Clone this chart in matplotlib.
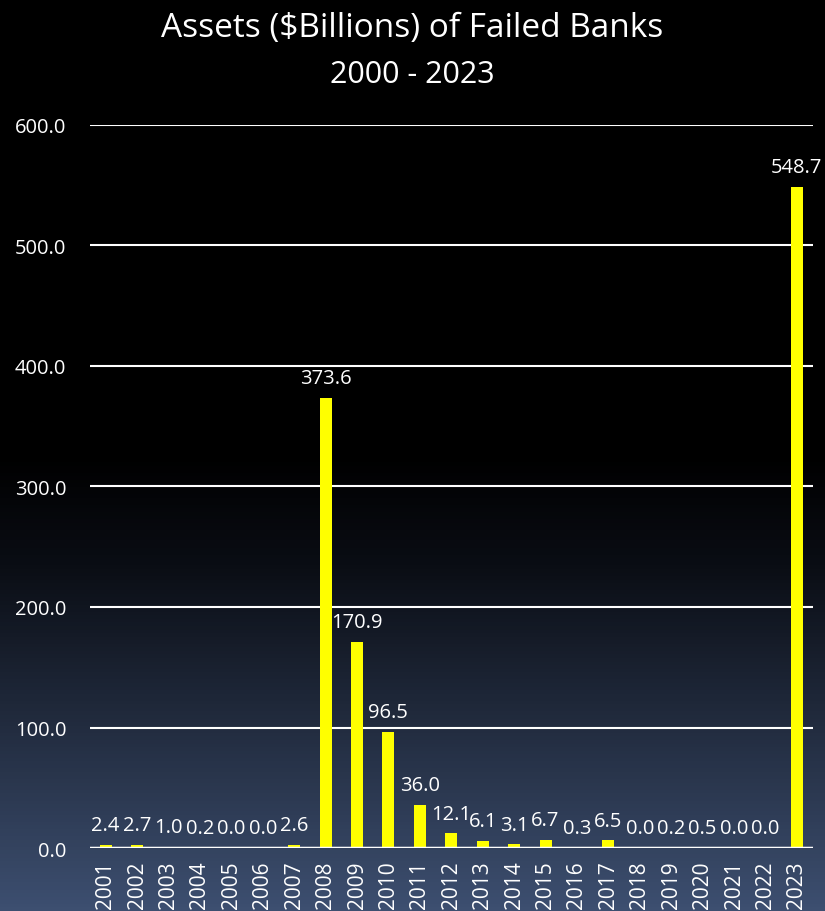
import numpy as np
import matplotlib.pyplot as plt
from matplotlib.colors import LinearSegmentedColormap

# data
years = [str(y) for y in range(2001, 2024)]
assets = [2.4, 2.7, 1.0, 0.2, 0.0, 0.0, 2.6, 373.6, 170.9, 96.5, 36.0, 12.1,
          6.1, 3.1, 6.7, 0.3, 6.5, 0.0, 0.2, 0.5, 0.0, 0.0, 548.7]
yticks = [0, 100, 200, 300, 400, 500, 600]

plt.rcParams['font.family'] = ['Open Sans', 'DejaVu Sans']

fig = plt.figure(figsize=(8.25, 9.12), dpi=100)

# background: black on top fading to slate blue at the bottom
bg = fig.add_axes([0, 0, 1, 1], zorder=-10)
cmap = LinearSegmentedColormap.from_list(
    'bg', [(0.0, '#000000'), (0.5, '#000000'), (0.62, '#0a0d14'), (1.0, '#3d4f70')])
grad = np.linspace(0, 1, 256).reshape(-1, 1)
bg.imshow(grad, aspect='auto', cmap=cmap, extent=[0, 1, 0, 1], origin='upper')
bg.axis('off')

ax = fig.add_axes([0.109, 0.069, 0.876, 0.793])
ax.patch.set_alpha(0)
x = np.arange(len(years))
bars = ax.bar(x, assets, width=0.38, color='#ffff00', zorder=3)

ax.set_ylim(0, 600)
ax.set_xlim(-0.5, len(years) - 0.5)
ax.set_yticks(yticks)
ax.set_yticklabels([f'{v:.1f}' for v in yticks])
ax.set_xticks(x)
ax.set_xticklabels(years, rotation=90)
ax.tick_params(axis='both', length=0, colors='white')
ax.tick_params(axis='y', pad=17, labelsize=14.5)
ax.tick_params(axis='x', pad=9, labelsize=15)
ax.grid(axis='y', color='white', linewidth=1.5, zorder=1)
ax.axhline(0, color='white', linewidth=2.5, zorder=4)
for s in ax.spines.values():
    s.set_visible(False)

for xi, v in zip(x, assets):
    ax.annotate(f'{v:.1f}', (xi, v), xytext=(0, 7), textcoords='offset points',
                ha='center', va='bottom', color='white', fontsize=14.5)

fig.text(0.5, 0.969, 'Assets ($Billions) of Failed Banks', ha='center', va='center',
         color='white', fontsize=24)
fig.text(0.5, 0.918, '2000 - 2023', ha='center', va='center', color='white', fontsize=22)

fig.savefig('out.png', dpi=100)
